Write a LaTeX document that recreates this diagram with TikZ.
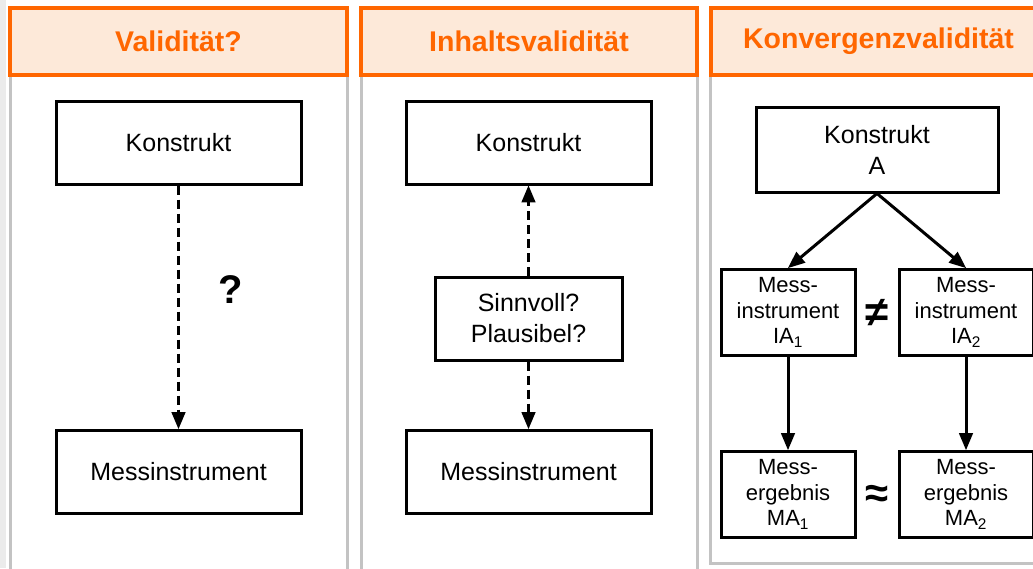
\documentclass[tikz,border=0pt]{standalone}
\usepackage{fontspec}
\setmainfont{Liberation Sans}
\usetikzlibrary{arrows}
\definecolor{hdorange}{HTML}{FF6600}
\definecolor{hdfill}{HTML}{FDE9D9}
\definecolor{panelgray}{HTML}{C3C3C3}

\begin{document}
\begin{tikzpicture}[x=1pt, y=-1pt,
    box/.style = {draw, line width=3pt, inner sep=0pt, align=center,
        font=\fontsize{25}{31}\selectfont},
    smallbox/.style = {box, minimum width=134pt, minimum height=86pt,
        font=\fontsize{22}{25.5}\selectfont},
    head/.style = {draw=hdorange, fill=hdfill, line width=4pt, text=hdorange,
        inner sep=0pt, minimum height=67pt, font=\bfseries\fontsize{28.5}{30}\selectfont},
    link/.style = {line width=3pt, -triangle 45},
    dashlink/.style = {link, dash pattern=on 9pt off 5pt}]
\useasboundingbox (0,0) rectangle (1033,568);
\fill[black!8] (0,0) rectangle (6,568);

% panel frames
\draw[panelgray, line width=3pt] (10,75) -- (10,570) (347,75) -- (347,570);
\draw[panelgray, line width=3pt] (361,75) -- (361,570) (697,75) -- (697,570);
\draw[panelgray, line width=3pt] (710,77) -- (710,563) -- (1040,563);

% headers
\node[head, minimum width=337pt] (head1) at (178.5,41.5) {Validität?};
\node[head, minimum width=336pt] (head2) at (529,41.5) {Inhaltsvalidität};
\node[head, minimum width=335pt] (head3) at (878.5,41.5) {Konvergenzvalidität};

% Validitaet
\node[box, minimum width=245pt, minimum height=83pt] (konstrukt1) at (178.5,142.5) {Konstrukt};
\node[box, minimum width=245pt, minimum height=83pt] (mess1) at (178.5,472) {Messinstrument};
\draw[dashlink] (konstrukt1) -- (mess1);
\node[font=\bfseries\fontsize{40}{40}\selectfont] (frage) at (231,290) {?};

% Inhaltsvaliditaet
\node[box, minimum width=245pt, minimum height=83pt] (konstrukt2) at (528.5,142.5) {Konstrukt};
\node[box, minimum width=187pt, minimum height=83pt] (sinn) at (528.5,318.5) {Sinnvoll?\\Plausibel?};
\node[box, minimum width=245pt, minimum height=83pt] (mess2) at (528.5,472) {Messinstrument};
\draw[dashlink] (sinn) -- (konstrukt2);
\draw[dashlink] (sinn) -- (mess2);

% Konvergenzvaliditaet
\begin{scope}[level 1/.style = {level distance=163pt, sibling distance=178pt},
    level 2/.style = {level distance=182pt},
    edge from parent/.style = {draw, line width=3pt, -triangle 45},
    edge from parent path = {(\tikzparentnode.south) -- (\tikzchildnode.north)}]
\node[box, minimum width=242pt, minimum height=85pt] (konstruktA) at (877,149.5) {Konstrukt\\A}
    child {node[smallbox] (ia1) {Mess-\\instrument\\IA\textsubscript{1}}
        child {node[smallbox] (ma1) {Mess-\\ergebnis\\MA\textsubscript{1}}}
    }
    child {node[smallbox] (ia2) {Mess-\\instrument\\IA\textsubscript{2}}
        child {node[smallbox] (ma2) {Mess-\\ergebnis\\MA\textsubscript{2}}}
    };
\end{scope}
\node[font=\bfseries\fontsize{42}{42}\selectfont] (ungleich) at (877,313) {≠};
\node[font=\bfseries\fontsize{42}{42}\selectfont] (ungefaehr) at (877,496) {≈};
\end{tikzpicture}
\end{document}
